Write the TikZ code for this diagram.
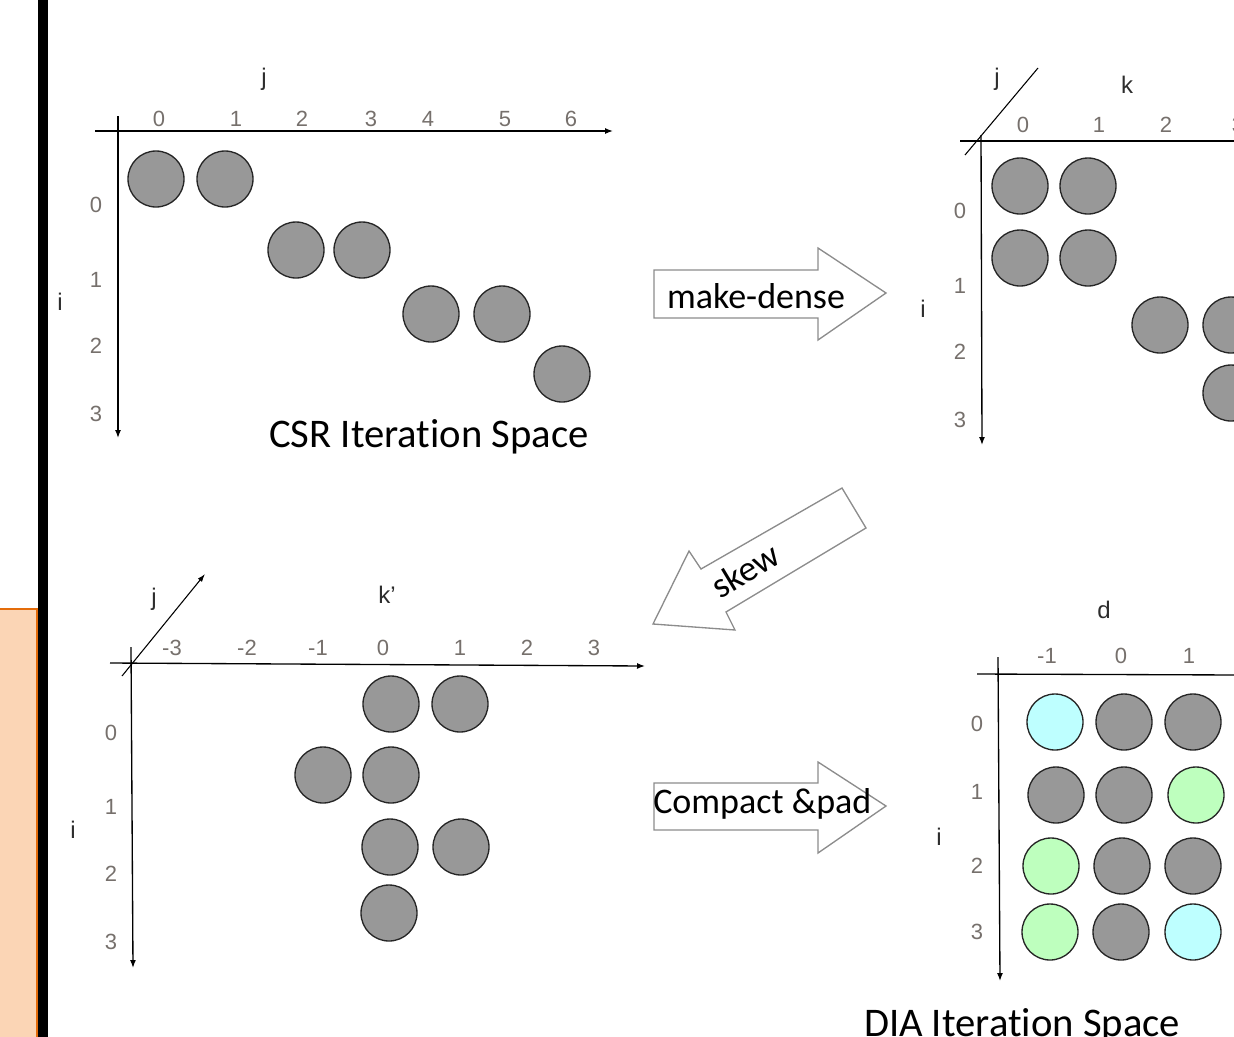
\documentclass[tikz,border=0pt]{standalone}
\usepackage{fontspec}
\setmainfont{Carlito}[Ligatures=NoCommon]
\newfontfamily\arialf{Liberation Sans}
\usetikzlibrary{arrows.meta}
\definecolor{dotgray}{RGB}{152,152,152}
\definecolor{dotcyan}{RGB}{190,255,255}
\definecolor{dotgreen}{RGB}{190,255,190}
\definecolor{peach}{RGB}{251,213,181}
\definecolor{orangeline}{RGB}{228,108,10}
\definecolor{ticktxt}{RGB}{118,112,108}
\definecolor{axtxt}{RGB}{45,45,45}
\definecolor{arrowedge}{RGB}{140,140,140}
\tikzset{
  dot/.style={circle, draw=black!85, line width=1pt, fill=dotgray, minimum size=42pt, inner sep=0pt},
  cdot/.style={dot, fill=dotcyan},
  gdot/.style={dot, fill=dotgreen},
  tick/.style={font=\arialf\fontsize{16.5}{16.5}\selectfont, text=ticktxt, inner sep=0pt},
  axlab/.style={font=\arialf\fontsize{18}{18}\selectfont, text=axtxt, inner sep=0pt},
  axisline/.style={line width=1pt, black},
  axarrow/.style={axisline, -{Latex[length=6pt,width=4.5pt]}},
  blockarrow/.style={draw=arrowedge, line width=1pt, fill=white},
  bigtxt/.style={font=\fontsize{27}{27}\selectfont, inner sep=0pt},
  titletxt/.style={font=\fontsize{30.5}{30.5}\selectfont, inner sep=0pt}
}
\begin{document}
\begin{tikzpicture}[x=0.75pt,y=-0.75pt]
\useasboundingbox (0,0) rectangle (1234,1036);
% left strip
\fill[peach] (-5,609) rectangle (37,1045);
\draw[orangeline, line width=1.6pt] (-5,609) -- (37,609) -- (37,1045);
\fill[black] (38,-5) rectangle (48,1045);

% ---------- CSR panel ----------
\coordinate (a1s) at (95,131); \coordinate (a1e) at (613,131);
\coordinate (b1s) at (118,116); \coordinate (b1e) at (118,438);
\draw[axarrow] (a1s) -- (a1e);
\draw[axarrow] (b1s) -- (b1e);
\node[axlab] (cj) at (264,79) {j};
\node[axlab] (ci) at (60,302) {i};
\foreach \x/\t in {159/0,236/1,302/2,371/3,428/4,505/5,571/6}
  \node[tick] (ct\t) at (\x,119) {\t};
\foreach \y/\t in {205/0,280/1,346/2,414/3}
  \node[tick] (cr\t) at (96,\y) {\t};
\node[dot] (c1) at (156,179) {};
\node[dot] (c2) at (225,179) {};
\node[dot] (c3) at (296,250) {};
\node[dot] (c4) at (362,250) {};
\node[dot] (c5) at (431,314) {};
\node[dot] (c6) at (502,314) {};
\node[dot] (c7) at (562,374) {};
\node[titletxt, anchor=base] (csr) at (429,447) {CSR Iteration Space};

% ---------- make-dense arrow ----------
\draw[blockarrow] (654,270) -- (818,270) -- (818,248) -- (886,293) -- (818,340) -- (818,318) -- (654,318) -- cycle;
\node[bigtxt] (md) at (756,296) {make-dense};

% ---------- dense panel (top right) ----------
\coordinate (a2s) at (960,141); \coordinate (a2e) at (1240,141);
\coordinate (b2s) at (981,135); \coordinate (b2e) at (982,445);
\coordinate (d2s) at (965,155); \coordinate (d2e) at (1038,68);
\draw[axisline] (a2s) -- (a2e);
\draw[axarrow] (b2s) -- (b2e);
\draw[line width=0.8pt] (d2s) -- (d2e);
\node[axlab] (dj) at (997,79) {j};
\node[axlab] (dk) at (1127,85) {k};
\node[axlab] (di) at (923,309) {i};
\foreach \x/\t in {1023/0,1099/1,1166/2,1238/3}
  \node[tick] (dt\t) at (\x,125) {\t};
\foreach \y/\t in {211/0,286/1,352/2,420/3}
  \node[tick] (dr\t) at (960,\y) {\t};
\node[dot] (d1) at (1020,186) {};
\node[dot] (d2) at (1088,186) {};
\node[dot] (d3) at (1020,258) {};
\node[dot] (d4) at (1088,258) {};
\node[dot] (d5) at (1160,325) {};
\node[dot] (d6) at (1231,325) {};
\node[dot] (d7) at (1231,393) {};

% ---------- skew arrow ----------
\draw[blockarrow] (653,624) -- (689,551) -- (701,569) -- (842,488) -- (866,528) -- (726,612) -- (735,630) -- cycle;
\node[bigtxt, rotate=31] (sk) at (745,570) {skew};

% ---------- skewed panel (bottom left) ----------
\coordinate (a3s) at (110,663); \coordinate (a3e) at (645,666);
\coordinate (b3s) at (131,647); \coordinate (b3e) at (133,968);
\coordinate (d3s) at (122,676); \coordinate (d3e) at (205,574);
\draw[axarrow] (a3s) -- (a3e);
\draw[axarrow] (b3s) -- (b3e);
\draw[line width=0.8pt, -{Latex[length=6pt,width=4pt]}] (d3s) -- (d3e);
\node[axlab] (sj) at (154,599) {j};
\node[axlab] (sk2) at (387,595) {k’};
\foreach \x/\t/\n in {172/-3/m3,247/-2/m2,318/-1/m1,383/0/p0,460/1/p1,527/2/p2,594/3/p3}
  \node[tick] (st\n) at (\x,648) {\t};
\foreach \y/\t in {733/0,807/1,874/2,942/3}
  \node[tick] (sr\t) at (111,\y) {\t};
\node[axlab] (si) at (73,830) {i};
\node[dot] (s1) at (391,704) {};
\node[dot] (s2) at (460,704) {};
\node[dot] (s3) at (323,775) {};
\node[dot] (s4) at (391,775) {};
\node[dot] (s5) at (390,847) {};
\node[dot] (s6) at (461,847) {};
\node[dot] (s7) at (389,913) {};

% ---------- Compact & pad arrow ----------
\draw[blockarrow] (654,783) -- (818,783) -- (818,762) -- (886,806) -- (818,853) -- (818,830) -- (654,830) -- cycle;
\node[bigtxt, anchor=west] (cp) at (653,804) {Compact \&pad};

% ---------- DIA panel ----------
\coordinate (a4s) at (977,674); \coordinate (a4e) at (1240,675);
\coordinate (b4s) at (998,657); \coordinate (b4e) at (1000,981);
\draw[axisline] (a4s) -- (a4e);
\draw[axarrow] (b4s) -- (b4e);
\node[axlab] (dd) at (1104,610) {d};
\node[axlab] (dii) at (939,837) {i};
\foreach \x/\t/\n in {1047/-1/m1,1121/0/p0,1189/1/p1}
  \node[tick] (et\n) at (\x,656) {\t};
\foreach \y/\t in {724/0,792/1,866/2,932/3}
  \node[tick] (er\t) at (977,\y) {\t};
\node[cdot] (e11) at (1055,722) {};
\node[dot]  (e12) at (1124,722) {};
\node[dot]  (e13) at (1193,722) {};
\node[dot]  (e21) at (1056,795) {};
\node[dot]  (e22) at (1124,795) {};
\node[gdot] (e23) at (1196,795) {};
\node[gdot] (e31) at (1051,866) {};
\node[dot]  (e32) at (1122,866) {};
\node[dot]  (e33) at (1193,866) {};
\node[gdot] (e41) at (1050,932) {};
\node[dot]  (e42) at (1121,932) {};
\node[cdot] (e43) at (1193,932) {};
\node[titletxt, anchor=base] (dia) at (1022,1036) {DIA Iteration Space};
\end{tikzpicture}
\end{document}
